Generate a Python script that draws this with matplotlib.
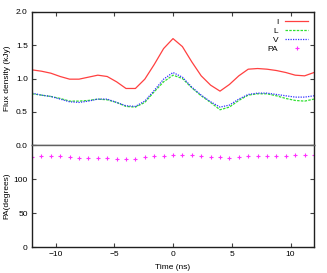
import matplotlib
matplotlib.use("Agg")
import matplotlib.pyplot as plt
import numpy as np

plt.rcParams['font.family'] = ['Liberation Sans', 'DejaVu Sans']

time_ns = [-12, -11.2, -10.4, -9.6, -8.8, -8.0, -7.2, -6.4, -5.6, -4.8, -4.0, -3.2,
           -2.4, -1.6, -0.8, 0, 0.8, 1.6, 2.4, 3.2, 4.0, 4.8, 5.6, 6.4, 7.2, 8.0,
           8.8, 9.6, 10.4, 11.2, 12]
flux_I = [1.13, 1.11, 1.08, 1.03, 0.99, 0.99, 1.02, 1.05, 1.03, 0.95, 0.85, 0.85,
          0.99, 1.21, 1.45, 1.60, 1.48, 1.25, 1.04, 0.90, 0.81, 0.91, 1.04, 1.14,
          1.15, 1.14, 1.12, 1.09, 1.05, 1.04, 1.09]
flux_L = [0.77, 0.75, 0.73, 0.70, 0.66, 0.66, 0.67, 0.69, 0.68, 0.64, 0.58, 0.57,
          0.64, 0.80, 0.95, 1.05, 1.00, 0.86, 0.74, 0.64, 0.53, 0.57, 0.67, 0.75,
          0.77, 0.77, 0.74, 0.70, 0.67, 0.66, 0.69]
flux_V = [0.78, 0.75, 0.73, 0.69, 0.65, 0.64, 0.66, 0.69, 0.69, 0.64, 0.59, 0.58,
          0.66, 0.82, 0.99, 1.09, 1.02, 0.87, 0.75, 0.65, 0.57, 0.60, 0.69, 0.76,
          0.78, 0.78, 0.76, 0.74, 0.72, 0.72, 0.74]
pa_deg = [132.6, 133.1, 133.1, 133.1, 132.1, 131.1, 131.1, 131.1, 131.1, 130.1,
          129.6, 130.1, 132.1, 133.1, 133.6, 134.6, 134.6, 134.6, 133.1, 132.6,
          132.1, 131.6, 132.1, 133.1, 133.1, 133.6, 133.6, 134.1, 135.1, 134.6,
          134.6]

W, H = 327, 273
fig = plt.figure(figsize=(W / 100, H / 100), dpi=100)
left, right = 32 / W, 314 / W
ax1 = fig.add_axes([left, 1 - 145 / H, right - left, (145 - 12) / H])
ax2 = fig.add_axes([left, 1 - 247 / H, right - left, (247 - 145) / H], sharex=ax1)

fs = 6
ax1.plot(time_ns, flux_I, color='#ff4040', lw=0.9, label='I')
ax1.plot(time_ns, flux_L, color='#30e030', lw=0.9, ls=(0, (2, 1)), label='L')
ax1.plot(time_ns, flux_V, color='#3030ff', lw=0.9, ls=(0, (1, 1)), label='V')
ax2.plot(time_ns, pa_deg, ls='none', marker='+', ms=2.6, mew=0.8, color='#ff30ff', label='PA')

ax1.set_xlim(-12, 12)
ax1.set_ylim(0, 2.0)
ax2.set_ylim(0, 150)
ax1.set_yticks([0, 0.5, 1.0, 1.5, 2.0])
ax1.set_yticklabels(['0.0', '0.5', '1.0', '1.5', '2.0'])
ax2.set_yticks([0, 50, 100, 150])
ax2.set_yticklabels(['0', '50', '100', ''])
ax1.set_xticks([-10, -5, 0, 5, 10])

for ax in (ax1, ax2):
    ax.tick_params(direction='in', top=True, right=True, labelsize=fs,
                   length=3, width=0.8, color='#404040', pad=3)
    for s in ax.spines.values():
        s.set_linewidth(1.0)
        s.set_color('#202020')
ax1.tick_params(axis='x', bottom=False, labelbottom=False)
ax2.tick_params(axis='x', top=False)
ax1.spines['bottom'].set_color('#606060')
ax2.spines['top'].set_color('#606060')

ax1.set_ylabel('Flux density (kJy)', fontsize=fs)
ax2.set_ylabel('PA(degrees)', fontsize=fs)
ax2.set_xlabel('Time (ns)', fontsize=fs)
ax1.yaxis.set_label_coords(-0.075, 0.5)
ax2.yaxis.set_label_coords(-0.075, 0.5)

h1, l1 = ax1.get_legend_handles_labels()
h2, l2 = ax2.get_legend_handles_labels()
leg = ax1.legend(h1 + h2, l1 + l2, loc='upper right', frameon=False, fontsize=fs,
                 markerfirst=False, handlelength=2.8, labelspacing=0.15,
                 borderaxespad=0.3, handletextpad=0.8)
for t in leg.get_texts():
    t.set_ha('right')

fig.savefig('out.png', dpi=100)
